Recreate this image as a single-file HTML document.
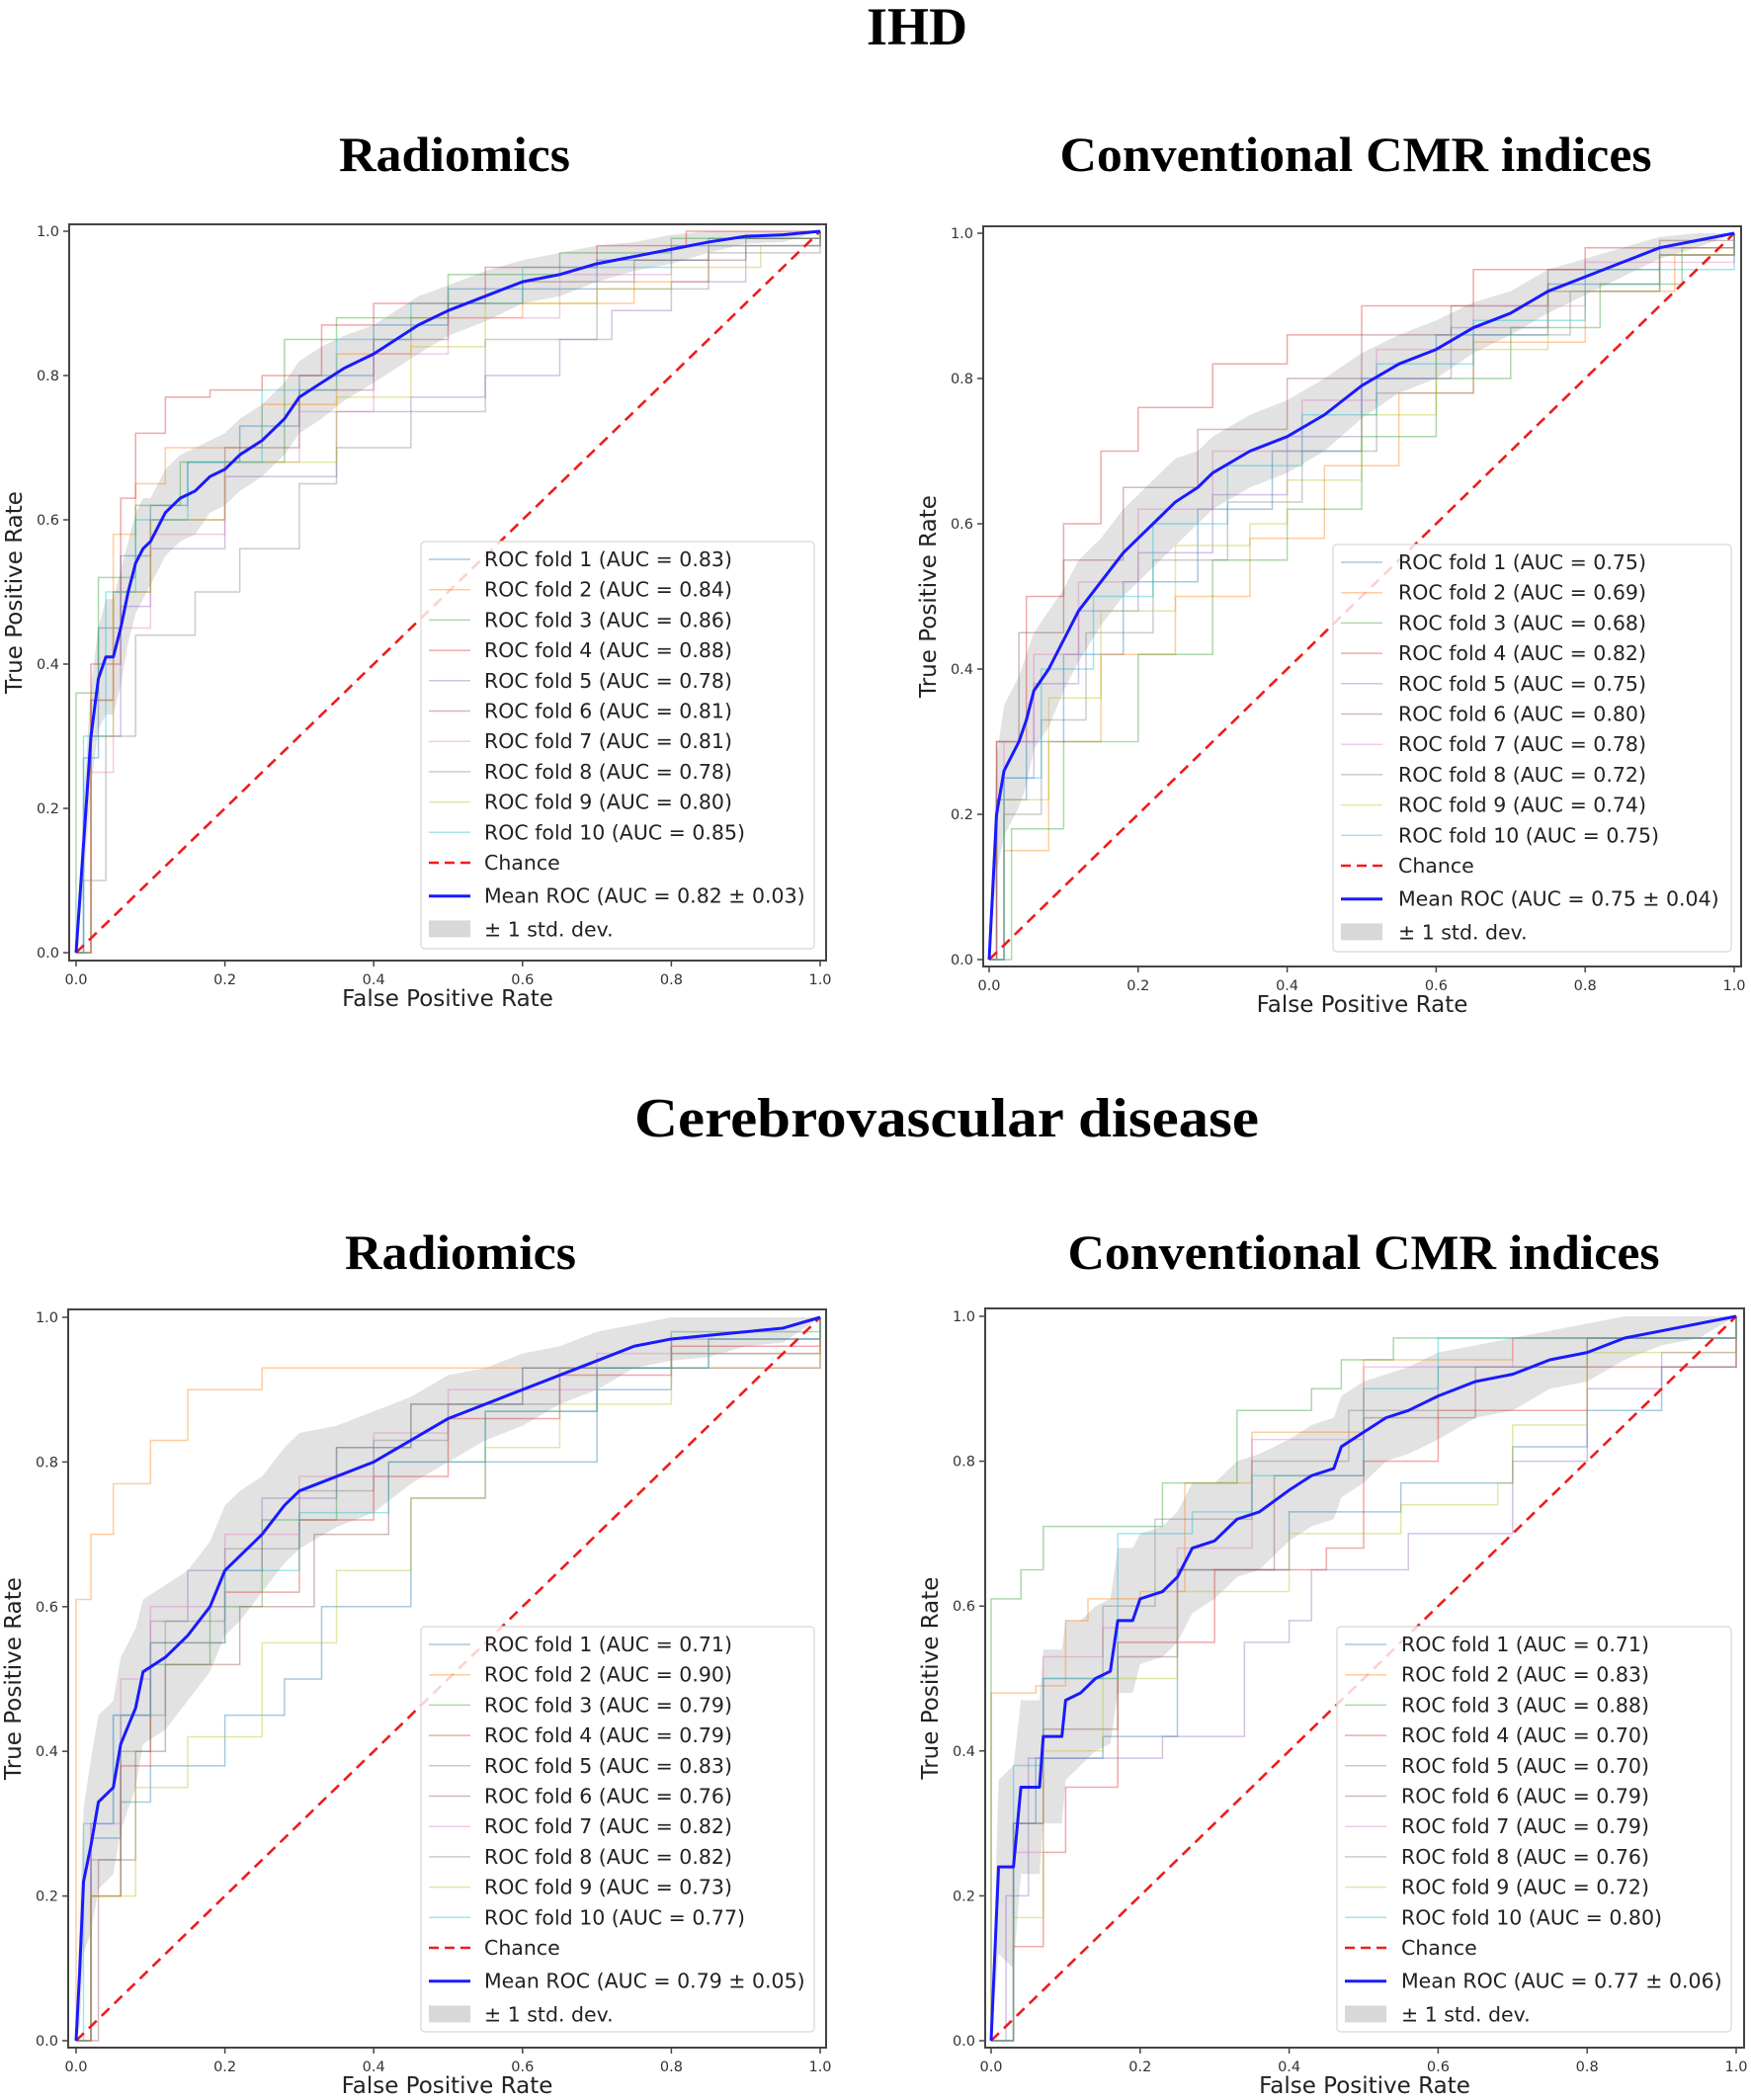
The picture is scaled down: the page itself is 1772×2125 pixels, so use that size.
<!DOCTYPE html>
<html><head><meta charset="utf-8"><style>
html,body{margin:0;padding:0;background:#fff;}
svg{display:block;}
</style></head><body>
<svg id="fig" width="1772" height="2125" viewBox="0 0 1772 2125" xmlns="http://www.w3.org/2000/svg">
<rect width="1772" height="2125" fill="#fff"/>
<text x="928" y="45" font-family="Liberation Serif, serif" font-weight="bold" font-size="54" text-anchor="middle">IHD</text>
<text x="460" y="173" font-family="Liberation Serif, serif" font-weight="bold" font-size="50" text-anchor="middle" textLength="234" lengthAdjust="spacingAndGlyphs">Radiomics</text>
<text x="1372" y="173" font-family="Liberation Serif, serif" font-weight="bold" font-size="50" text-anchor="middle" textLength="599" lengthAdjust="spacingAndGlyphs">Conventional CMR indices</text>
<text x="958" y="1150" font-family="Liberation Serif, serif" font-weight="bold" font-size="56" text-anchor="middle" textLength="632" lengthAdjust="spacingAndGlyphs">Cerebrovascular disease</text>
<text x="466" y="1284" font-family="Liberation Serif, serif" font-weight="bold" font-size="50" text-anchor="middle" textLength="234" lengthAdjust="spacingAndGlyphs">Radiomics</text>
<text x="1380" y="1284" font-family="Liberation Serif, serif" font-weight="bold" font-size="50" text-anchor="middle" textLength="599" lengthAdjust="spacingAndGlyphs">Conventional CMR indices</text>
</svg>
<script>
// ---------- data ----------
const foldColors = ["#1f77b4","#ff7f0e","#2ca02c","#d62728","#9467bd","#8c564b","#e377c2","#7f7f7f","#bcbd22","#17becf"];
const xTicks = [0,0.2,0.4,0.6,0.8,1.0];
const yTicks = [0,0.2,0.4,0.6,0.8,1.0];
const tickLabels = ["0.0","0.2","0.4","0.6","0.8","1.0"];

// Panel A: IHD radiomics
const aucA = ["0.83","0.84","0.86","0.88","0.78","0.81","0.81","0.78","0.80","0.85"];
const meanAucA = "0.82 ± 0.03";
const meanXA = [0,0.01,0.02,0.03,0.04,0.05,0.06,0.07,0.08,0.09,0.1,0.12,0.14,0.16,0.18,0.2,0.22,0.25,0.28,0.3,0.33,0.36,0.4,0.43,0.46,0.5,0.55,0.6,0.65,0.7,0.75,0.8,0.85,0.9,0.95,1];
const meanYA = [0,0.15,0.3,0.38,0.41,0.41,0.45,0.5,0.54,0.56,0.57,0.61,0.63,0.64,0.66,0.67,0.69,0.71,0.74,0.77,0.79,0.81,0.83,0.85,0.87,0.89,0.91,0.93,0.94,0.955,0.965,0.975,0.985,0.993,0.995,1];
const stdYA = [0,0.06,0.07,0.07,0.08,0.08,0.08,0.07,0.07,0.07,0.06,0.06,0.06,0.06,0.05,0.05,0.05,0.05,0.05,0.05,0.05,0.045,0.04,0.04,0.04,0.035,0.035,0.03,0.03,0.025,0.02,0.02,0.015,0.01,0.01,0];
const foldsA = [
[[0,0],[0.01,0.27],[0.03,0.45],[0.06,0.55],[0.1,0.62],[0.15,0.68],[0.22,0.73],[0.3,0.8],[0.4,0.87],[0.5,0.92],[0.7,0.96],[0.85,0.99],[1,1]],
[[0,0],[0.02,0.35],[0.05,0.58],[0.08,0.65],[0.12,0.7],[0.25,0.76],[0.35,0.83],[0.45,0.88],[0.6,0.9],[0.75,0.93],[0.85,0.98],[1,1]],
[[0,0],[0,0.36],[0.03,0.52],[0.08,0.62],[0.14,0.68],[0.28,0.85],[0.35,0.88],[0.5,0.94],[0.65,0.97],[0.8,0.99],[1,1]],
[[0,0],[0.02,0.4],[0.06,0.63],[0.08,0.72],[0.12,0.77],[0.18,0.78],[0.25,0.8],[0.33,0.87],[0.4,0.9],[0.55,0.95],[0.7,0.98],[0.82,1],[1,1]],
[[0,0],[0.02,0.3],[0.06,0.48],[0.1,0.56],[0.2,0.66],[0.35,0.75],[0.45,0.77],[0.55,0.8],[0.65,0.85],[0.72,0.89],[0.8,0.93],[0.9,0.98],[1,1]],
[[0,0],[0.02,0.35],[0.05,0.5],[0.1,0.6],[0.2,0.7],[0.3,0.78],[0.4,0.85],[0.5,0.9],[0.6,0.93],[0.75,0.96],[0.9,0.99],[1,1]],
[[0,0],[0.02,0.25],[0.05,0.45],[0.1,0.58],[0.2,0.68],[0.3,0.75],[0.4,0.83],[0.5,0.88],[0.65,0.94],[0.8,0.98],[1,1]],
[[0,0],[0.01,0.1],[0.04,0.3],[0.08,0.44],[0.12,0.44],[0.16,0.5],[0.22,0.56],[0.3,0.65],[0.35,0.7],[0.45,0.75],[0.55,0.85],[0.7,0.92],[0.85,0.97],[1,1]],
[[0,0],[0.02,0.3],[0.05,0.5],[0.1,0.6],[0.2,0.68],[0.35,0.77],[0.45,0.84],[0.55,0.9],[0.7,0.92],[0.8,0.95],[0.92,0.98],[1,1]],
[[0,0],[0.01,0.3],[0.04,0.5],[0.08,0.6],[0.15,0.68],[0.25,0.78],[0.35,0.85],[0.45,0.9],[0.6,0.95],[0.8,0.98],[1,1]]
];

// Panel B: IHD conventional
const aucB = ["0.75","0.69","0.68","0.82","0.75","0.80","0.78","0.72","0.74","0.75"];
const meanAucB = "0.75 ± 0.04";
const meanXB = [0,0.01,0.02,0.03,0.04,0.05,0.06,0.08,0.1,0.12,0.15,0.18,0.2,0.22,0.25,0.28,0.3,0.35,0.4,0.45,0.5,0.55,0.6,0.65,0.7,0.75,0.8,0.85,0.9,0.95,1];
const meanYB = [0,0.2,0.26,0.28,0.3,0.33,0.37,0.4,0.44,0.48,0.52,0.56,0.58,0.6,0.63,0.65,0.67,0.7,0.72,0.75,0.79,0.82,0.84,0.87,0.89,0.92,0.94,0.96,0.98,0.99,1];
const stdYB = [0,0.08,0.09,0.09,0.09,0.09,0.08,0.08,0.07,0.07,0.06,0.06,0.06,0.06,0.06,0.05,0.05,0.05,0.05,0.05,0.045,0.04,0.04,0.035,0.03,0.03,0.025,0.02,0.015,0.01,0];
const foldsB = [
[[0,0],[0.01,0.22],[0.05,0.3],[0.1,0.42],[0.18,0.52],[0.28,0.62],[0.38,0.7],[0.5,0.8],[0.6,0.86],[0.75,0.93],[0.9,0.97],[1,1]],
[[0,0],[0.02,0.15],[0.08,0.3],[0.15,0.42],[0.25,0.5],[0.35,0.58],[0.45,0.68],[0.55,0.78],[0.65,0.85],[0.8,0.92],[0.92,0.97],[1,1]],
[[0,0],[0.03,0.18],[0.1,0.3],[0.2,0.42],[0.3,0.55],[0.4,0.62],[0.5,0.72],[0.6,0.8],[0.7,0.87],[0.82,0.93],[0.93,0.98],[1,1]],
[[0,0],[0.01,0.3],[0.05,0.5],[0.1,0.6],[0.15,0.7],[0.2,0.76],[0.3,0.82],[0.4,0.86],[0.5,0.9],[0.65,0.95],[0.8,0.98],[1,1]],
[[0,0],[0.02,0.25],[0.06,0.38],[0.12,0.48],[0.2,0.56],[0.3,0.64],[0.4,0.72],[0.5,0.8],[0.62,0.87],[0.75,0.92],[0.9,0.97],[1,1]],
[[0,0],[0.01,0.3],[0.04,0.45],[0.1,0.55],[0.18,0.65],[0.28,0.73],[0.4,0.8],[0.5,0.86],[0.62,0.9],[0.75,0.95],[0.9,0.99],[1,1]],
[[0,0],[0.02,0.3],[0.06,0.42],[0.12,0.52],[0.2,0.62],[0.3,0.7],[0.42,0.77],[0.52,0.84],[0.65,0.9],[0.8,0.96],[1,1]],
[[0,0],[0.02,0.2],[0.07,0.33],[0.13,0.45],[0.22,0.55],[0.32,0.63],[0.42,0.7],[0.52,0.78],[0.65,0.86],[0.78,0.92],[0.9,0.97],[1,1]],
[[0,0],[0.02,0.22],[0.08,0.36],[0.15,0.48],[0.25,0.57],[0.35,0.6],[0.4,0.66],[0.5,0.75],[0.6,0.84],[0.75,0.92],[0.9,0.97],[1,1]],
[[0,0],[0.02,0.25],[0.07,0.4],[0.14,0.5],[0.22,0.6],[0.32,0.68],[0.42,0.75],[0.52,0.82],[0.65,0.88],[0.8,0.95],[1,1]]
];

// Panel C: Cerebrovascular radiomics
const aucC = ["0.71","0.90","0.79","0.79","0.83","0.76","0.82","0.82","0.73","0.77"];
const meanAucC = "0.79 ± 0.05";
const meanXC = [0,0.005,0.01,0.02,0.03,0.05,0.06,0.08,0.09,0.12,0.15,0.18,0.2,0.22,0.25,0.28,0.3,0.35,0.4,0.45,0.5,0.55,0.6,0.65,0.7,0.75,0.8,0.85,0.9,0.95,1];
const meanYC = [0,0.1,0.22,0.27,0.33,0.35,0.41,0.46,0.51,0.53,0.56,0.6,0.65,0.67,0.7,0.74,0.76,0.78,0.8,0.83,0.86,0.88,0.9,0.92,0.94,0.96,0.97,0.975,0.98,0.985,1];
const stdYC = [0,0.08,0.1,0.12,0.12,0.12,0.12,0.11,0.1,0.1,0.09,0.09,0.09,0.09,0.08,0.08,0.08,0.07,0.07,0.06,0.06,0.05,0.05,0.04,0.04,0.03,0.03,0.03,0.02,0.02,0];
const foldsC = [
[[0,0],[0.02,0.28],[0.06,0.33],[0.1,0.38],[0.2,0.45],[0.28,0.5],[0.33,0.6],[0.45,0.75],[0.55,0.8],[0.7,0.9],[0.8,0.95],[1,1]],
[[0,0],[0,0.61],[0.02,0.7],[0.05,0.77],[0.1,0.83],[0.15,0.9],[0.25,0.93],[0.45,0.93],[0.6,0.93],[1,0.94],[1,1]],
[[0,0],[0.02,0.2],[0.06,0.4],[0.1,0.52],[0.18,0.6],[0.25,0.72],[0.35,0.82],[0.45,0.88],[0.6,0.93],[0.8,0.98],[1,1]],
[[0,0],[0.02,0.2],[0.06,0.38],[0.1,0.55],[0.2,0.62],[0.3,0.72],[0.4,0.78],[0.5,0.86],[0.65,0.92],[0.8,0.96],[1,1]],
[[0,0],[0.02,0.3],[0.05,0.45],[0.1,0.58],[0.15,0.65],[0.25,0.75],[0.35,0.82],[0.45,0.88],[0.6,0.93],[0.8,0.97],[1,1]],
[[0,0],[0.03,0.25],[0.08,0.4],[0.12,0.52],[0.22,0.6],[0.32,0.7],[0.42,0.8],[0.55,0.87],[0.7,0.93],[0.85,0.97],[1,1]],
[[0,0],[0.02,0.3],[0.06,0.5],[0.1,0.6],[0.2,0.7],[0.3,0.78],[0.4,0.84],[0.5,0.9],[0.7,0.95],[1,1]],
[[0,0],[0.02,0.25],[0.06,0.45],[0.12,0.58],[0.2,0.68],[0.3,0.76],[0.4,0.83],[0.5,0.88],[0.65,0.93],[1,1]],
[[0,0],[0.02,0.2],[0.08,0.35],[0.15,0.42],[0.25,0.55],[0.35,0.65],[0.45,0.75],[0.55,0.82],[0.65,0.88],[0.8,0.95],[1,1]],
[[0,0],[0.01,0.3],[0.05,0.45],[0.1,0.55],[0.2,0.65],[0.3,0.73],[0.42,0.8],[0.55,0.87],[0.7,0.93],[0.85,0.97],[1,1]]
];

// Panel D: Cerebrovascular conventional
const aucD = ["0.71","0.83","0.88","0.70","0.70","0.79","0.79","0.76","0.72","0.80"];
const meanAucD = "0.77 ± 0.06";
const meanXD = [0,0.01,0.03,0.04,0.065,0.07,0.095,0.1,0.12,0.14,0.16,0.17,0.19,0.2,0.23,0.25,0.27,0.3,0.33,0.36,0.4,0.43,0.46,0.47,0.5,0.53,0.56,0.6,0.65,0.7,0.75,0.8,0.85,0.9,0.95,1];
const meanYD = [0,0.24,0.24,0.35,0.35,0.42,0.42,0.47,0.48,0.5,0.51,0.58,0.58,0.61,0.62,0.64,0.68,0.69,0.72,0.73,0.76,0.78,0.79,0.82,0.84,0.86,0.87,0.89,0.91,0.92,0.94,0.95,0.97,0.98,0.99,1];
const stdYD = [0,0.12,0.14,0.12,0.12,0.12,0.12,0.11,0.1,0.1,0.1,0.1,0.1,0.09,0.09,0.09,0.09,0.08,0.08,0.08,0.07,0.07,0.07,0.07,0.07,0.06,0.06,0.06,0.05,0.05,0.04,0.04,0.03,0.02,0.02,0];
const foldsD = [
[[0,0],[0.03,0.3],[0.06,0.39],[0.15,0.42],[0.25,0.65],[0.4,0.73],[0.55,0.77],[0.7,0.82],[0.8,0.87],[0.9,0.93],[1,1]],
[[0,0],[0,0.48],[0.06,0.49],[0.1,0.58],[0.13,0.61],[0.2,0.62],[0.26,0.77],[0.35,0.84],[0.5,0.94],[0.7,0.97],[1,1]],
[[0,0],[0,0.61],[0.04,0.65],[0.07,0.71],[0.23,0.77],[0.33,0.87],[0.43,0.9],[0.47,0.94],[0.54,0.97],[1,1]],
[[0,0],[0.03,0.13],[0.07,0.26],[0.1,0.35],[0.17,0.55],[0.3,0.65],[0.45,0.68],[0.5,0.8],[0.6,0.87],[0.8,0.93],[1,1]],
[[0,0],[0.02,0.2],[0.05,0.39],[0.23,0.42],[0.34,0.55],[0.4,0.58],[0.43,0.65],[0.56,0.7],[0.7,0.8],[0.8,0.9],[0.9,0.95],[1,1]],
[[0,0],[0.03,0.3],[0.07,0.43],[0.17,0.53],[0.25,0.65],[0.38,0.78],[0.5,0.86],[0.65,0.93],[0.8,0.97],[1,1]],
[[0,0],[0.03,0.26],[0.07,0.53],[0.15,0.57],[0.25,0.68],[0.35,0.83],[0.5,0.93],[0.7,0.97],[1,1]],
[[0,0],[0.03,0.3],[0.07,0.5],[0.15,0.6],[0.22,0.72],[0.35,0.8],[0.48,0.87],[0.6,0.93],[0.8,0.97],[1,1]],
[[0,0],[0.03,0.17],[0.07,0.4],[0.15,0.5],[0.25,0.62],[0.4,0.7],[0.55,0.74],[0.68,0.77],[0.7,0.85],[0.8,0.95],[1,1]],
[[0,0],[0.03,0.38],[0.07,0.5],[0.17,0.7],[0.27,0.73],[0.35,0.78],[0.5,0.9],[0.6,0.97],[1,1]]
];

// ---------- drawing ----------
const NS = "http://www.w3.org/2000/svg";
const svg = document.getElementById("fig");
function mk(tag, attrs, parent){
  const e = document.createElementNS(NS, tag);
  for (const k in attrs) e.setAttribute(k, attrs[k]);
  (parent||svg).appendChild(e);
  return e;
}
const FONT = "DejaVu Sans, Liberation Sans, sans-serif";

function panel(id, frame, x0, x1, y0, y1, meanX, meanY, stdY, folds, aucs, meanAuc, legend){
  const sx = v => x0 + v*(x1-x0);
  const sy = v => y0 - v*(y0-y1);
  const g = mk("g", {});
  
  
  let d = "";
  for (let i=0;i<meanX.length;i++) d += (i?"L":"M") + sx(meanX[i]) + "," + sy(Math.min(1, meanY[i]+stdY[i]));
  for (let i=meanX.length-1;i>=0;i--) d += "L" + sx(meanX[i]) + "," + sy(Math.max(0, meanY[i]-stdY[i]));
  const band = mk("path", {d: d+"Z", fill:"#d8d8d8", "fill-opacity":"0.75", stroke:"none"}, g);
  
  
  folds.forEach((pts, k) => {
    let p = "M" + sx(pts[0][0]) + "," + sy(pts[0][1]);
    for (let i=1;i<pts.length;i++){
      p += "L" + sx(pts[i][0]) + "," + sy(pts[i-1][1]) + "L" + sx(pts[i][0]) + "," + sy(pts[i][1]);
    }
    const f = mk("path", {d:p, fill:"none", stroke:foldColors[k], "stroke-opacity":"0.4", "stroke-width":"1.5"}, g);
    
    
  });
  const ch = mk("line", {x1:sx(0), y1:sy(0), x2:sx(1), y2:sy(1), stroke:"#ee1c1c", "stroke-width":"2.6", "stroke-dasharray":"11,7"}, g);
  
  
  let m = "";
  for (let i=0;i<meanX.length;i++) m += (i?"L":"M") + sx(meanX[i]) + "," + sy(meanY[i]);
  const ml = mk("path", {d:m, fill:"none", stroke:"#1a1aff", "stroke-width":"3", "stroke-linejoin":"round"}, g);
  
  
  const fr = mk("rect", {x:frame[0], y:frame[1], width:frame[2]-frame[0], height:frame[3]-frame[1], fill:"none", stroke:"#444", "stroke-width":"2"}, g);
  
  
  xTicks.forEach((t,i) => {
    mk("line", {x1:sx(t), x2:sx(t), y1:frame[3], y2:frame[3]+6, stroke:"#444", "stroke-width":"1.5"}, g);
    const tl = mk("text", {x:sx(t), y:frame[3]+24, "font-family":FONT, "font-size":"14.5", fill:"#333", "text-anchor":"middle"}, g);
    tl.textContent = tickLabels[i];
    
    
  });
  yTicks.forEach((t,i) => {
    mk("line", {x1:frame[0]-6, x2:frame[0], y1:sy(t), y2:sy(t), stroke:"#444", "stroke-width":"1.5"}, g);
    const tl = mk("text", {x:frame[0]-10, y:sy(t)+5, "font-family":FONT, "font-size":"14.5", fill:"#333", "text-anchor":"end"}, g);
    tl.textContent = tickLabels[i];
    
    
  });
  const xt = mk("text", {x:(frame[0]+frame[2])/2, y:frame[3]+46, "font-family":FONT, "font-size":"23", fill:"#222", "text-anchor":"middle"}, g);
  xt.textContent = "False Positive Rate";
  
  
  const cy = (frame[1]+frame[3])/2;
  const yt = mk("text", {x:frame[0]-48, y:cy, "font-family":FONT, "font-size":"23", fill:"#222", "text-anchor":"middle", transform:"rotate(-90 "+(frame[0]-48)+" "+cy+")"}, g);
  yt.textContent = "True Positive Rate";
  
  
  const [lx0, ly0, lx1, ly1, tx] = legend;
  const lg = mk("g", {}, g);
  
  
  mk("rect", {x:lx0, y:ly0, width:lx1-lx0, height:ly1-ly0, rx:4, fill:"#fff", "fill-opacity":"0.8", stroke:"#ddd", "stroke-width":"1.5"}, lg);
  const step = 30.7;
  const labels = aucs.map((a,i) => "ROC fold " + (i+1) + " (AUC = " + a + ")");
  labels.push("Chance", "Mean ROC (AUC = " + meanAuc + ")", "± 1 std. dev.");
  labels.forEach((lab, i) => {
    const yy = ly0 + 18 + i*step + (i>=11 ? (i-10)*3 : 0);
    const sx0 = lx0+8, sx1 = lx0+50;
    if (i < 10) mk("line", {x1:sx0, x2:sx1, y1:yy, y2:yy, stroke:foldColors[i], "stroke-opacity":"0.4", "stroke-width":"1.5"}, lg);
    else if (i === 10) mk("line", {x1:sx0, x2:sx1, y1:yy, y2:yy, stroke:"#ee1c1c", "stroke-width":"2.6", "stroke-dasharray":"10,6"}, lg);
    else if (i === 11) mk("line", {x1:sx0, x2:sx1, y1:yy, y2:yy, stroke:"#1a1aff", "stroke-width":"3"}, lg);
    else mk("rect", {x:sx0, y:yy-9, width:sx1-sx0, height:17, fill:"#d8d8d8"}, lg);
    const lt = mk("text", {x:tx, y:yy+7, "font-family":FONT, "font-size":"20.5", fill:"#222"}, lg);
    lt.textContent = lab;
    
    
  });
}

panel("ihd-radiomics", [70,227,836,972], 77, 830, 964, 234, meanXA, meanYA, stdYA, foldsA, aucA, meanAucA, [426,548,824,960,490]);
panel("ihd-cmr", [995,229,1762,978], 1001, 1755, 971, 236, meanXB, meanYB, stdYB, foldsB, aucB, meanAucB, [1349,551,1752,963,1415]);
panel("cerebro-radiomics", [69,1325,836,2072], 77, 830, 2065, 1333, meanXC, meanYC, stdYC, foldsC, aucC, meanAucC, [426,1646,824,2056,490]);
panel("cerebro-cmr", [997,1324,1765,2072], 1003, 1757, 2065, 1332, meanXD, meanYD, stdYD, foldsD, aucD, meanAucD, [1353,1646,1752,2056,1418]);
</script>
</body></html>
